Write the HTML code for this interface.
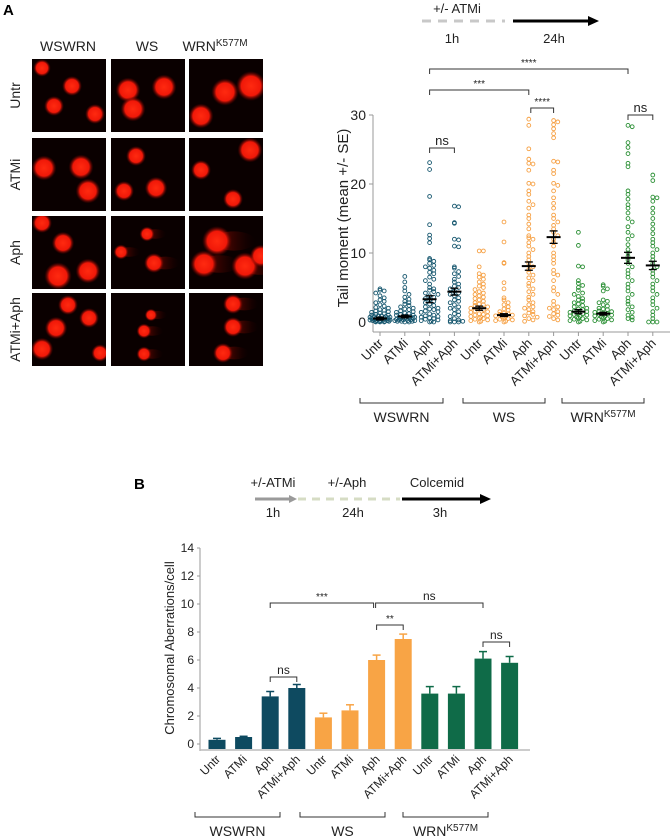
<!DOCTYPE html>
<html><head><meta charset="utf-8"><style>
html,body{margin:0;padding:0;background:#fff;}
svg{display:block;font-family:"Liberation Sans",sans-serif;}
</style></head><body>
<svg id="fig" width="671" height="840" viewBox="0 0 671 840" xmlns="http://www.w3.org/2000/svg">
<defs>
<radialGradient id="nuc"><stop offset="0" stop-color="#ff2a10"/><stop offset="0.65" stop-color="#f01808"/><stop offset="1" stop-color="#600000" stop-opacity="0"/></radialGradient>
<linearGradient id="tail" x1="0" x2="1"><stop offset="0" stop-color="#c01000" stop-opacity="0.7"/><stop offset="1" stop-color="#300000" stop-opacity="0"/></linearGradient>
<clipPath id="imgclip"><rect x="0" y="0" width="74" height="73"/></clipPath>
</defs>
<text x="3" y="15" font-size="15" font-weight="bold">A</text>
<text x="134" y="489" font-size="15" font-weight="bold">B</text>
<g id="micro"></g>
<g id="chartA"></g>
<g id="chartB"></g>
</svg>
<script>
const categories = ["Untr","ATMi","Aph","ATMi+Aph","Untr","ATMi","Aph","ATMi+Aph","Untr","ATMi","Aph","ATMi+Aph"];
const groups = ["WSWRN","WS","WRN"];
const yTicksA = [0,10,20,30];
const yTicksB = [0,2,4,6,8,10,12,14];
const meansA = [0.5,0.8,3.3,4.4,2.0,1.0,8.1,12.3,1.5,1.2,9.3,8.2];
const seA = [0.2,0.2,0.5,0.5,0.3,0.2,0.6,0.9,0.3,0.2,0.8,0.6];
const barValues = [0.3,0.5,3.4,4.0,1.9,2.4,6.0,7.5,3.6,3.6,6.1,5.8];
const barErrors = [0.1,0.05,0.35,0.25,0.3,0.4,0.35,0.35,0.5,0.5,0.5,0.45];
const pts0 = [4.8,4.6,4.5,4.2,3.8,3.5,3.2,3.0,2.8,2.5,2.3,2.1,2.0,1.8,1.7,1.6,1.5,1.4,1.3,1.2,1.1,1.0,1.0,0.9,0.9,0.8,0.8,0.7,0.7,0.6,0.6,0.5,0.5,0.5,0.4,0.4,0.4,0.3,0.3,0.3,0.3,0.2,0.2,0.2,0.2,0.1,0.1,0.1,0.1,0.0,0.0,0.0];
const pts1 = [6.6,5.8,5.0,4.5,4.0,3.6,3.3,3.0,2.8,2.6,2.4,2.2,2.0,1.9,1.8,1.6,1.5,1.4,1.3,1.2,1.1,1.0,1.0,0.9,0.8,0.8,0.7,0.7,0.6,0.6,0.5,0.5,0.4,0.4,0.3,0.3,0.3,0.2,0.2,0.2,0.1,0.1,0.1,0.0,0.0];
const pts2 = [23.1,22.1,18.2,14.1,12.6,12.1,11.5,9.2,9.0,8.8,8.5,8.2,8.0,7.8,7.5,7.2,7.0,6.5,6.2,6.0,5.5,5.0,4.8,4.6,4.4,4.2,4.0,3.8,3.6,3.4,3.2,3.0,2.8,2.6,2.4,2.2,2.0,1.9,1.8,1.6,1.5,1.4,1.2,1.0,0.9,0.8,0.7,0.6,0.5,0.4,0.3,0.2,0.1,0.0,0.0];
const pts3 = [16.8,16.7,14.4,14.3,12.0,11.9,11.0,10.9,8.0,7.8,7.3,7.0,6.6,6.2,5.8,5.5,5.2,5.0,4.8,4.5,4.2,4.0,3.8,3.5,3.2,3.0,2.8,2.5,2.2,2.0,1.8,1.5,1.2,1.0,0.8,0.5,0.3,0.2,0.1,0.0,0.0,0.0];
const pts4 = [10.3,10.3,8.0,7.0,6.8,6.5,6.2,5.8,5.5,5.2,5.0,4.7,4.4,4.2,4.0,3.8,3.6,3.4,3.2,3.0,2.8,2.6,2.5,2.4,2.2,2.0,1.9,1.8,1.6,1.5,1.4,1.2,1.1,1.0,0.9,0.8,0.7,0.6,0.5,0.4,0.3,0.2,0.1,0.0];
const pts5 = [14.5,11.6,8.6,8.5,5.7,4.8,3.5,3.2,2.8,2.5,2.2,1.9,1.7,1.5,1.3,1.2,1.1,1.0,0.9,0.8,0.7,0.6,0.5,0.4,0.3,0.2,0.1,0.0];
const pts6 = [29.4,28.5,25.1,23.6,23.0,22.9,22.0,20.1,20.0,19.0,18.5,17.5,17.0,16.5,15.5,15.0,14.2,13.5,12.5,12.2,12.0,11.5,11.0,10.5,10.0,9.5,9.0,8.5,8.0,7.6,7.2,6.8,6.4,6.0,5.6,5.2,4.8,4.4,4.0,3.6,3.2,2.8,2.5,2.2,2.0,1.8,1.5,1.3,1.1,0.9,0.7,0.5,0.3,0.1];
const pts7 = [29.2,29.0,28.6,28.0,27.3,26.7,23.3,23.2,22.0,21.5,20.1,19.8,19.0,18.0,17.2,16.5,15.5,15.0,14.5,14.0,13.5,13.0,12.5,12.0,11.5,11.0,10.0,9.5,9.0,8.5,7.5,7.0,6.8,6.0,5.0,4.5,4.0,3.0,2.5,2.2,2.0,1.8,1.5,1.2,1.0,0.8,0.5,0.3];
const pts8 = [13.0,11.1,8.1,8.0,6.0,5.6,5.3,5.0,4.6,4.2,4.0,3.7,3.4,3.2,3.0,2.8,2.6,2.4,2.2,2.0,1.9,1.8,1.6,1.5,1.4,1.3,1.2,1.1,1.0,0.9,0.8,0.7,0.6,0.5,0.4,0.3,0.2,0.1,0.0];
const pts9 = [5.4,5.2,4.8,4.5,3.2,3.0,2.8,2.5,2.3,2.0,1.9,1.8,1.6,1.5,1.4,1.3,1.2,1.1,1.0,0.9,0.8,0.7,0.6,0.5,0.4,0.3,0.2,0.1,0.0];
const pts10 = [28.5,28.3,26.0,25.3,24.4,23.0,22.5,19.0,18.5,17.8,17.0,16.5,15.8,15.0,14.5,13.8,13.0,12.5,12.0,11.2,10.5,10.0,9.5,9.0,8.5,8.0,7.5,7.0,6.5,6.0,5.5,5.0,4.5,4.0,3.5,3.0,2.6,2.2,1.8,1.4,1.0,0.7,0.5,0.3];
const pts11 = [21.3,20.5,18.1,18.0,17.5,16.5,15.8,15.0,14.2,13.5,12.8,12.0,11.5,11.0,10.5,10.0,9.5,9.0,8.5,8.0,7.5,7.0,6.5,6.0,5.5,5.0,4.5,4.0,3.5,3.0,2.5,2.0,1.5,1.0,0.5,0.0,0.0,0.0];
const scatter = [pts0,pts1,pts2,pts3,pts4,pts5,pts6,pts7,pts8,pts9,pts10,pts11];

const NS="http://www.w3.org/2000/svg";
function mk(parent,tag,attrs,text){const e=document.createElementNS(NS,tag);for(const k in attrs)e.setAttribute(k,attrs[k]);if(text!==undefined)e.textContent=text;parent.appendChild(e);return e;}
const colA=["#15566e","#f6a043","#2a8f34"];
const colB=["#0e4a60","#f8a445","#0f6b48"];

const micro=document.getElementById('micro');
const colsX=[32,111,189], rowsY=[59,138,216,293], W=74, H=73;
const nuclei=[
 [[[10,9,7],[40,27,8],[22,47,8],[63,55,8]],[[17,31,10],[53,28,10],[22,50,10]],[[36,33,11],[62,27,12],[12,57,10]]],
 [[[12,30,10],[49,29,10],[56,53,10]],[[25,18,8],[13,53,8],[45,50,9]],[[61,12,10],[12,32,8],[44,61,8]]],
 [[[10,7,8],[31,27,9],[26,60,11],[56,55,10]],[[36,18,6],[10,36,6],[43,47,8]],[[28,25,12],[15,48,11],[56,50,11],[72,40,9]]],
 [[[36,12,8],[57,25,8],[24,35,9],[10,56,9],[68,60,7]],[[33,38,6],[33,61,6],[40,22,5]],[[44,11,8],[44,34,8],[34,60,8]]]
];
const aphTail=[[false,false,false],[false,false,false],[false,true,true],[false,true,true]];
const rowNames=["Untr","ATMi","Aph","ATMi+Aph"];
const colNames=["WSWRN","WS","WRN"];
for(let r=0;r<4;r++){for(let c=0;c<3;c++){
 const g=mk(micro,'g',{transform:`translate(${colsX[c]},${rowsY[r]})`});
 
 
 mk(g,'rect',{x:0,y:0,width:W,height:H,fill:'#0a0000'});
 const inner=mk(g,'g',{'clip-path':'url(#imgclip)'});
 for(const n of nuclei[r][c]){
  if(aphTail[r][c]) mk(inner,'ellipse',{cx:n[0]+n[2]*1.4,cy:n[1],rx:n[2]*1.8,ry:n[2]*0.8,fill:'url(#tail)'});
  mk(inner,'circle',{cx:n[0],cy:n[1],r:n[2]*1.25,fill:'url(#nuc)'});
 }
}}
const colHdr=[["WSWRN",68],["WS",147],["WRN",215]];
colHdr.forEach((h,i)=>{const t=mk(micro,'text',{x:h[1],y:51,'font-size':14,'text-anchor':'middle',fill:'#222'},h[0]);
 
 
 if(i==2){mk(t,'tspan',{'font-size':10,dy:-5},'K577M');}});
rowNames.forEach((n,i)=>{const cy=rowsY[i]+H/2;const t=mk(micro,'text',{x:0,y:0,transform:`translate(20,${cy}) rotate(-90)`,'font-size':14,'text-anchor':'middle',fill:'#222'},n);
 
 });

const A=document.getElementById('chartA');
const yA=v=>322-v*207/30;
const xA=i=>380+i*24.8;
mk(A,'text',{x:457,y:13,'font-size':13,'text-anchor':'middle',fill:'#222'},'+/- ATMi');
mk(A,'line',{x1:422,y1:21,x2:505,y2:21,stroke:'#c8c8c8','stroke-width':3,'stroke-dasharray':'9,7'});
mk(A,'line',{x1:513,y1:21,x2:590,y2:21,stroke:'#000','stroke-width':3});
mk(A,'polygon',{points:'588,16 599,21 588,26',fill:'#000'});
mk(A,'text',{x:452,y:43,'font-size':13,'text-anchor':'middle',fill:'#222'},'1h');
mk(A,'text',{x:554,y:43,'font-size':13,'text-anchor':'middle',fill:'#222'},'24h');
const axA=mk(A,'g',{});


mk(axA,'line',{x1:373,y1:yA(30),x2:373,y2:332,stroke:'#999'});
yTicksA.forEach(t=>{mk(axA,'line',{x1:369,y1:yA(t),x2:373,y2:yA(t),stroke:'#999'});
 mk(axA,'text',{x:366,y:yA(t)+5,'font-size':14,'text-anchor':'end',fill:'#222'},t);});
const tA=mk(A,'text',{transform:'translate(348,218) rotate(-90)','font-size':15,'text-anchor':'middle',fill:'#222'},'Tail moment (mean +/- SE)');


mk(A,'line',{x1:373,y1:332,x2:670,y2:332,stroke:'#999'});
categories.forEach((c,i)=>{const x=xA(i);mk(A,'line',{x1:x,y1:332,x2:x,y2:336,stroke:'#999'});
 const t=mk(A,'text',{transform:`translate(${x+4},${344}) rotate(-45)`,'font-size':13,'text-anchor':'end',fill:'#222'},c);
 
 });
scatter.forEach((arr,i)=>{
 const g=mk(A,'g',{});
 
 
 const bins={};
 arr.forEach(v=>{const b=Math.round(yA(v)/4.5);const k=bins[b]||0;bins[b]=k+1;
  const off=(k%2?1:-1)*Math.ceil(k/2)*4.2;const dx=((Math.abs(off)>11)?(off%11):off);
  mk(g,'circle',{cx:xA(i)+dx,cy:yA(v),r:1.9,fill:'none',stroke:colA[Math.floor(i/4)],'stroke-width':0.9});});
 const x=xA(i),m=meansA[i],s=seA[i];
 mk(g,'line',{x1:x-7,y1:yA(m),x2:x+7,y2:yA(m),stroke:'#000','stroke-width':2});
 mk(g,'line',{x1:x,y1:yA(m-s),x2:x,y2:yA(m+s),stroke:'#000','stroke-width':1.3});
 mk(g,'line',{x1:x-4,y1:yA(m-s),x2:x+4,y2:yA(m-s),stroke:'#000','stroke-width':1.3});
 mk(g,'line',{x1:x-4,y1:yA(m+s),x2:x+4,y2:yA(m+s),stroke:'#000','stroke-width':1.3});
});
function bracket(p,x1,x2,y,label,fs){const g=mk(p,'g',{});
 
 
 mk(g,'path',{d:`M${x1},${y+5}V${y}H${x2}V${y+5}`,fill:'none',stroke:'#333','stroke-width':1});
 mk(g,'text',{x:(x1+x2)/2,y:y-3,'font-size':fs,'text-anchor':'middle',fill:'#222'},label);}
bracket(A,xA(2),xA(10),69,'****',10);
bracket(A,xA(2),xA(6),90,'***',10);
bracket(A,xA(6)+2,xA(7),108,'****',10);
bracket(A,xA(10),xA(11),115,'ns',13);
bracket(A,xA(2),xA(3),148,'ns',13);
function groupBr(p,x1,x2,y,label,ly){const g=mk(p,'g',{});
 
 
 mk(g,'path',{d:`M${x1},${y-5}V${y}H${x2}V${y-5}`,fill:'none',stroke:'#333','stroke-width':1});
 const t=mk(g,'text',{x:(x1+x2)/2,y:ly,'font-size':14,'text-anchor':'middle',fill:'#222'},label);
 if(label=='WRN') mk(t,'tspan',{'font-size':10,dy:-5},'K577M');}
groupBr(A,360,443,403,'WSWRN',422);
groupBr(A,463,545,403,'WS',422);
groupBr(A,562,644,403,'WRN',422);

const B=document.getElementById('chartB');
const yB=v=>744-v*14;
const xB=i=>217+i*26.6;
mk(B,'text',{x:273,y:487,'font-size':13,'text-anchor':'middle',fill:'#222'},'+/-ATMi');
mk(B,'line',{x1:255,y1:499,x2:290,y2:499,stroke:'#9a9a9a','stroke-width':3});
mk(B,'polygon',{points:'289,495 297,499 289,503',fill:'#9a9a9a'});
mk(B,'line',{x1:298,y1:499,x2:400,y2:499,stroke:'#d6dcc4','stroke-width':3,'stroke-dasharray':'8,6'});
mk(B,'text',{x:347,y:487,'font-size':13,'text-anchor':'middle',fill:'#222'},'+/-Aph');
mk(B,'line',{x1:402,y1:499,x2:482,y2:499,stroke:'#000','stroke-width':3});
mk(B,'polygon',{points:'480,494 491,499 480,504',fill:'#000'});
mk(B,'text',{x:437,y:487,'font-size':13,'text-anchor':'middle',fill:'#222'},'Colcemid');
mk(B,'text',{x:273,y:517,'font-size':13,'text-anchor':'middle',fill:'#222'},'1h');
mk(B,'text',{x:353,y:517,'font-size':13,'text-anchor':'middle',fill:'#222'},'24h');
mk(B,'text',{x:440,y:517,'font-size':13,'text-anchor':'middle',fill:'#222'},'3h');
const axB=mk(B,'g',{});


mk(axB,'line',{x1:200,y1:yB(14),x2:200,y2:751,stroke:'#999'});
yTicksB.forEach(t=>{mk(axB,'line',{x1:197,y1:yB(t),x2:200,y2:yB(t),stroke:'#999'});
 mk(axB,'text',{x:194,y:yB(t)+4,'font-size':12,'text-anchor':'end',fill:'#222'},t);});
const tB=mk(B,'text',{transform:'translate(174,648) rotate(-90)','font-size':13,'text-anchor':'middle',fill:'#222'},'Chromosomal Aberrations/cell');


mk(B,'line',{x1:200,y1:750,x2:530,y2:750,stroke:'#bbb','stroke-width':1.5});
barValues.forEach((v,i)=>{const x=xB(i),c=colB[Math.floor(i/4)],e=barErrors[i];
 mk(B,'line',{x1:x,y1:yB(v),x2:x,y2:yB(v+e),stroke:c,'stroke-width':1.5});
 mk(B,'line',{x1:x-4,y1:yB(v+e),x2:x+4,y2:yB(v+e),stroke:c,'stroke-width':1.5});
 const r=mk(B,'rect',{x:x-8.5,y:yB(v),width:17,height:yB(0)-yB(v)+5,fill:c});
 
 
 const t=mk(B,'text',{transform:`translate(${x+4},${760}) rotate(-45)`,'font-size':12,'text-anchor':'end',fill:'#222'},categories[i]);
 
 });
bracket(B,xB(2),xB(6)-3,603,'***',10);
bracket(B,xB(6)-1,xB(10),603,'ns',12);
bracket(B,xB(6),xB(7),625,'**',10);
bracket(B,xB(10),xB(11),642,'ns',12);
bracket(B,xB(2),xB(3),677,'ns',12);
groupBr(B,195,280,817,'WSWRN',836);
groupBr(B,300,385,817,'WS',836);
groupBr(B,403,488,817,'WRN',836);
</script>
</body></html>
